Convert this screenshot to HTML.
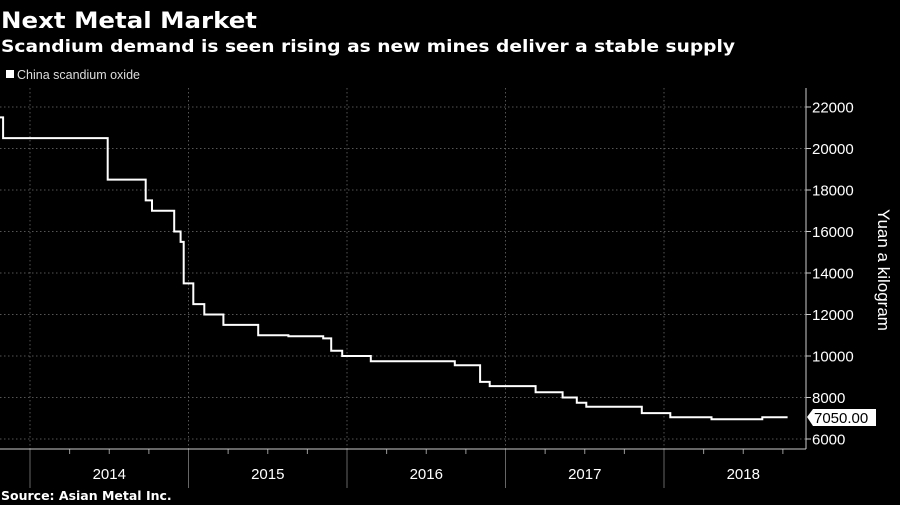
<!DOCTYPE html>
<html><head><meta charset="utf-8"><style>
html,body{margin:0;padding:0;background:#000;}
svg{display:block;}
</style></head><body>
<svg id="chart" width="900" height="505" xmlns="http://www.w3.org/2000/svg" font-family="'Liberation Sans', sans-serif">
<rect width="900" height="505" fill="#000"/>
<text x="1" y="28" fill="#fff" font-family="'DejaVu Sans', sans-serif" font-weight="bold" font-size="22" textLength="256" lengthAdjust="spacingAndGlyphs">Next Metal Market</text>
<text x="1" y="52" fill="#fff" font-family="'DejaVu Sans', sans-serif" font-weight="bold" font-size="17" textLength="734" lengthAdjust="spacingAndGlyphs">Scandium demand is seen rising as new mines deliver a stable supply</text>
<rect x="6" y="70" width="8" height="8" fill="#fff"/>
<text x="17" y="79" fill="#ddd" font-size="12.5">China scandium oxide</text>
<g id="grid"></g>
<g id="axes"></g>
<path id="series" fill="none" stroke="#fff" stroke-width="2"/>
<g>
<path d="M807 417 L813 409 L876 409 L876 426 L813 426 Z" fill="#fff"/>
<text x="814" y="423" fill="#000" font-size="15">7050.00</text>
</g>
<text transform="translate(878,270) rotate(90)" text-anchor="middle" fill="#fff" font-size="17">Yuan a kilogram</text>
<text x="1" y="500" fill="#fff" font-family="'DejaVu Sans', sans-serif" font-weight="bold" font-size="12.5">Source: Asian Metal Inc.</text>
</svg>
<script>
const dates=[2013.81,2013.83,2014.49,2014.73,2014.77,2014.91,2014.95,2014.97,2015.03,2015.10,2015.22,2015.44,2015.63,2015.85,2015.90,2015.97,2016.15,2016.68,2016.84,2016.90,2017.19,2017.36,2017.45,2017.51,2017.86,2018.04,2018.30,2018.62,2018.78];
const prices=[21500,20500,18500,17500,17000,16000,15500,13500,12500,12000,11500,11000,10950,10850,10250,10000,9750,9550,8750,8550,8250,8000,7750,7550,7250,7050,6950,7050,7050];
const yTicks=[6000,8000,10000,12000,14000,16000,18000,20000,22000];
const years=[2014,2015,2016,2017,2018];
const NS='http://www.w3.org/2000/svg';
const xS=t=>30+(t-2014)*158.5;
const yS=v=>439-(v-6000)*0.02075;
const plotTop=88,plotBottom=449,plotRight=806;
const grid=document.getElementById('grid'),axes=document.getElementById('axes');
function mk(tag,attrs,parent){const e=document.createElementNS(NS,tag);for(const k in attrs)e.setAttribute(k,attrs[k]);parent.appendChild(e);return e;}
yTicks.forEach(v=>{
 const y=yS(v);
 const g=mk('line',{x1:0,x2:plotRight,y1:y,y2:y,stroke:'#555','stroke-dasharray':'1.5,2.5','stroke-width':1},grid);
 
 
 const tk=mk('line',{x1:plotRight,x2:plotRight+5,y1:y,y2:y,stroke:'#ccc'},axes);
 
 
 const t=mk('text',{x:plotRight+6,y:y+5.5,fill:'#fff','font-size':15},axes);
 t.textContent=v;
 
 
});
years.concat([2019]).forEach(yr=>{
 const x=xS(yr);
 if(x<plotRight){
 const g=mk('line',{x1:x,x2:x,y1:plotTop,y2:plotBottom,stroke:'#555','stroke-dasharray':'1.5,2.5'},grid);
 
 
 const s=mk('line',{x1:x,x2:x,y1:plotBottom,y2:488,stroke:'#666'},axes);
 
 
 }
 for(let q=1;q<4;q++){const qx=xS(yr-1+q/4);if(qx>0&&qx<plotRight){
 const m=mk('line',{x1:qx,x2:qx,y1:plotBottom,y2:plotBottom+5,stroke:'#999'},axes);
 
 }}
});
years.forEach(yr=>{
 const t=mk('text',{x:xS(yr+0.5),y:479,fill:'#fff','font-size':15,'text-anchor':'middle'},axes);
 t.textContent=yr;
 
 
});
const xa=mk('line',{x1:0,x2:plotRight,y1:plotBottom,y2:plotBottom,stroke:'#ccc'},axes);


const ya=mk('line',{x1:plotRight,x2:plotRight,y1:plotTop,y2:plotBottom,stroke:'#ccc'},axes);


let d='';
dates.forEach((t,i)=>{const x=xS(t).toFixed(1),y=yS(prices[i]).toFixed(1);
 if(i===0)d+='M'+x+' '+y;else d+=' H'+x+' V'+y;});
document.getElementById('series').setAttribute('d',d);
</script>
</body></html>
